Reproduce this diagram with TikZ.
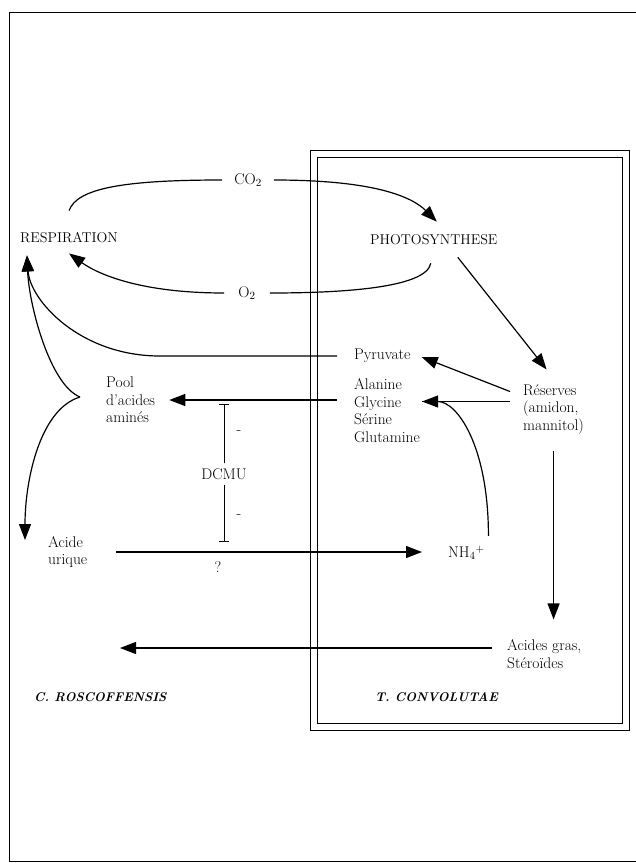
\documentclass[tikz,border=0pt]{standalone}
\usetikzlibrary{arrows.meta,calc}
\begin{document}
\begin{tikzpicture}[x=1pt, y=-1pt,
    txt/.style={inner sep=2pt, font=\fontsize{15.5}{17.5}\selectfont, align=left, anchor=west},
    caps/.style={txt, font=\fontsize{14.2}{16}\selectfont},
    gas/.style={font=\fontsize{15.5}{17.5}\selectfont, inner xsep=12pt, inner ysep=2pt},
    species/.style={txt, font=\fontsize{12.6}{16}\selectfont\bfseries\itshape},
    conn/.style={line width=1.2pt},
    arr/.style={conn, -{Triangle[length=16pt,width=12pt]}},
    inh/.style={line width=1pt, -{Bar[width=10pt]}},
    frame/.style={line width=1pt}]
  \useasboundingbox (0,0) rectangle (636,863);
  % frames
  \draw[frame] (9,12) rectangle (680,861);
  \draw[frame] (310,150) rectangle (629,730);
  \draw[frame] (317,157) rectangle (622,723);
  % texts
  \node[caps] (resp) at (18,238) {RESPIRATION};
  \node[caps] (photo) at (368,240) {PHOTOSYNTHESE};
  \node[gas] (co2) at (248,180) {CO$_2$};
  \node[gas, inner xsep=14pt] (o2) at (247,293) {O$_2$};
  \node[txt] (pool) at (104,400) {Pool\\d'acides\\amin\'es};
  \node[txt] (pyr) at (352,356) {Pyruvate};
  \node[txt] (ala) at (352,410.5) {Alanine\\Glycine\\S\'erine\\Glutamine};
  \node[txt] (res) at (521,409.5) {R\'eserves\\(amidon,\\mannitol)};
  \node[txt] (nh4) at (446,553) {NH$_4{}^+$};
  \node[txt] (acur) at (46,552) {Acide\\urique};
  \node[gas, inner xsep=2pt, inner ysep=5pt] (dcmu) at (224,474) {DCMU};
  \node[txt, anchor=center] (m1) at (239,433) {-};
  \node[txt, anchor=center] (m2) at (239,517) {-};
  \node[txt, anchor=center] (q) at (218,567) {?};
  \node[txt] (gras) at (505,654) {Acides gras,\\St\'ero\"\i des};
  \node[species] (cros) at (32,697) {C. ROSCOFFENSIS};
  \node[species] (tconv) at (373,697) {T. CONVOLUTAE};
  \coordinate (fork) at ($(pool.west)+(-24,-3)$);
  \coordinate (lipout) at (120,648);
  % gas exchange
  \draw[conn] ([yshift=20pt]resp.north) .. controls +(8,-22) and +(-100,0) .. (co2.west);
  \draw[arr] (co2.east) .. controls +(100,0) and +(-25,-25) .. ($(photo.north)+(3,-11)$);
  \draw[conn] ($(photo.south)+(-3,16)$) .. controls +(-5,25) and +(70,0) .. (o2.east);
  \draw[arr] (o2.west) .. controls +(-90,0) and +(25,18) .. ($(resp.south)+(0,8)$);
  % towards respiration
  \draw[arr] ($(pyr.west)+(-15,0)$) -- ++(-177,0) .. controls +(-80,0) and +(3,45) .. ($(resp.south west)+(9,10)$);
  \draw[arr] (fork) .. controls +(-30,-12) and +(2,50) .. ($(resp.south west)+(9,10)$);
  \draw[arr] (fork) .. controls +(-40,12) and +(0,-60) .. ($(acur.west)+(-21,-12)$);
  % amino acids
  \draw[arr] ($(ala.west |- pool.east)+(-15,0)$) -- ($(pool.east)+(12,0)$);
  \draw[inh] (dcmu.north) -- ++(0,-59);
  \draw[inh] (dcmu.south) -- ++(0,57);
  \draw[arr] ($(acur.east)+(27,0)$) -- ($(nh4.west |- acur.east)+(-24,0)$);
  \draw[arr] ($(nh4.north)+(22,-8)$) .. controls +(0,-90) and +(35,0) .. ($(ala.east)+(0,-9)$);
  % reserves
  \draw[arr] ($(photo.south)+(24,10)$) -- ($(res.north)+(-7,-13)$);
  \draw[arr] ($(res.west)+(-11,-18)$) -- ($(pyr.east)+(9,1)$);
  \draw[conn] ($(res.west)+(-11,-8)$) -- ($(ala.east)+(0,-9)$);
  \draw[arr] ($(res.south)+(0,14)$) -- ($(res.south |- gras.north)+(0,-18)$);
  \draw[arr] ($(gras.west)+(-13,-6)$) -- (lipout);
\end{tikzpicture}
\end{document}
